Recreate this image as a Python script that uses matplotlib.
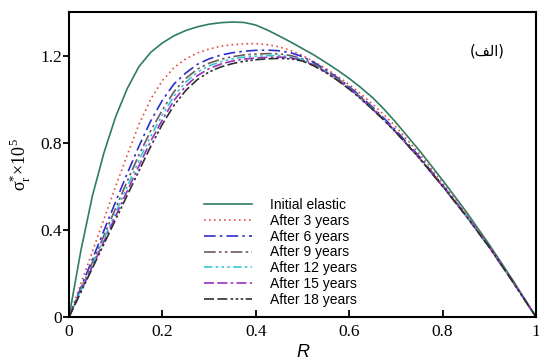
import matplotlib
matplotlib.use("Agg")
import matplotlib.pyplot as plt

# ---- data ----
R = [0, 0.025, 0.05, 0.075, 0.1, 0.125, 0.15, 0.175, 0.2, 0.225, 0.25, 0.275, 0.3,
     0.325, 0.35, 0.375, 0.4, 0.425, 0.45, 0.475, 0.5, 0.525, 0.55, 0.575, 0.6,
     0.625, 0.65, 0.675, 0.7, 0.75, 0.8, 0.85, 0.9, 0.95, 1.0]

initial_elastic = [0, 0.30, 0.555, 0.755, 0.92, 1.05, 1.15, 1.215, 1.258, 1.291, 1.315, 1.332, 1.344,
                   1.351, 1.354, 1.352, 1.34, 1.317, 1.29, 1.262, 1.232, 1.202, 1.168, 1.133, 1.095,
                   1.053, 1.007, 0.953, 0.893, 0.765, 0.628, 0.485, 0.332, 0.17, 0]
after_3 = [0, 0.15, 0.30, 0.45, 0.60, 0.745, 0.885, 1.0, 1.085, 1.145, 1.185, 1.212, 1.23,
           1.243, 1.25, 1.254, 1.255, 1.25, 1.24, 1.223, 1.20, 1.172, 1.14, 1.105, 1.067,
           1.024, 0.977, 0.927, 0.873, 0.75, 0.615, 0.475, 0.326, 0.166, 0]
after_6 = [0, 0.132, 0.265, 0.398, 0.53, 0.66, 0.785, 0.90, 0.995, 1.07, 1.12, 1.16, 1.185,
           1.202, 1.213, 1.22, 1.224, 1.225, 1.222, 1.213, 1.195, 1.168, 1.135, 1.098, 1.057,
           1.012, 0.963, 0.911, 0.857, 0.737, 0.605, 0.468, 0.322, 0.164, 0]
after_9 = [0, 0.125, 0.25, 0.375, 0.50, 0.625, 0.745, 0.855, 0.95, 1.035, 1.095, 1.138, 1.165,
           1.183, 1.195, 1.203, 1.207, 1.209, 1.208, 1.20, 1.185, 1.162, 1.131, 1.095, 1.054,
           1.008, 0.959, 0.906, 0.85, 0.731, 0.602, 0.466, 0.321, 0.163, 0]
after_12 = [0, 0.12, 0.24, 0.36, 0.48, 0.60, 0.72, 0.83, 0.928, 1.015, 1.078, 1.124, 1.153,
            1.172, 1.185, 1.193, 1.197, 1.20, 1.20, 1.194, 1.181, 1.158, 1.127, 1.091, 1.05,
            1.005, 0.956, 0.904, 0.849, 0.73, 0.60, 0.465, 0.32, 0.163, 0]
after_15 = [0, 0.116, 0.232, 0.348, 0.464, 0.58, 0.695, 0.807, 0.905, 0.995, 1.06, 1.108, 1.14,
            1.161, 1.175, 1.184, 1.189, 1.192, 1.193, 1.19, 1.178, 1.155, 1.124, 1.088, 1.048,
            1.003, 0.954, 0.903, 0.848, 0.73, 0.60, 0.465, 0.32, 0.163, 0]
after_18 = [0, 0.112, 0.224, 0.336, 0.448, 0.56, 0.672, 0.783, 0.885, 0.972, 1.04, 1.09, 1.125,
            1.148, 1.163, 1.174, 1.181, 1.185, 1.187, 1.185, 1.175, 1.152, 1.122, 1.086, 1.046,
            1.001, 0.953, 0.902, 0.848, 0.73, 0.60, 0.465, 0.32, 0.163, 0]

labels = ["Initial elastic", "After 3 years", "After 6 years", "After 9 years",
          "After 12 years", "After 15 years", "After 18 years"]
xticks = [0, 0.2, 0.4, 0.6, 0.8, 1.0]
xticklabels = ["0", "0.2", "0.4", "0.6", "0.8", "1"]
yticks = [0, 0.4, 0.8, 1.2]
yticklabels = ["0", "0.4", "0.8", "1.2"]

series = [initial_elastic, after_3, after_6, after_9, after_12, after_15, after_18]
colors = ["#2e7d5e", "#e0503c", "#2c2cd0", "#6e5a5a", "#30c8d0", "#9a30c0", "#303030"]
styles = ["-", (0, (1, 2)), (0, (7, 2.5, 1.5, 2.5)), (0, (7, 2, 1.5, 2, 1.5, 2)),
          (0, (5, 2, 1.5, 2, 1.5, 2, 1.5, 2)), (0, (6, 2, 6, 2, 1.5, 2)),
          (0, (6, 2, 6, 2, 1.5, 1.5, 1.5, 1.5, 1.5, 1.5))]

fig = plt.figure(figsize=(5.39, 3.62), dpi=100)
ax = fig.add_axes([69/539, 45/362, 467/539, 305/362])

for y, lab, c, ls in zip(series, labels, colors, styles):
    ax.plot(R, y, color=c, linestyle=ls, linewidth=1.2, label=lab)

ax.set_xlim(0, 1)
ax.set_ylim(0, 1.4)
ax.set_xticks(xticks)
ax.set_xticklabels(xticklabels, family="Liberation Serif", fontsize=12.5)
ax.set_yticks(yticks)
ax.set_yticklabels(yticklabels, family="Liberation Serif", fontsize=12.5)
ax.tick_params(axis="x", direction="in", length=5, width=1.3, pad=5)
ax.tick_params(axis="y", direction="out", length=4, width=1.3, pad=1)
for s in ax.spines.values():
    s.set_linewidth(1.5)

ax.set_xlabel("R", family="Liberation Sans", style="italic", fontsize=13, labelpad=3)
ax.set_ylabel("σ$_{\\mathregular{r}}^{\\mathregular{*}}$×10$^{\\mathregular{5}}$",
              family="Liberation Serif", fontsize=13, labelpad=5)

leg = ax.legend(loc="upper left", bbox_to_anchor=(0.29, 0.39), frameon=False,
                prop={"family": "Liberation Sans", "size": 10},
                handlelength=3.4, handletextpad=1.3, labelspacing=0.13,
                borderpad=0, borderaxespad=0)

# Arabic label "(الف)" written with presentation forms in visual order
ax.text(0.895, 0.872, "(\ufed2\ufedf\ufe8d)", transform=ax.transAxes,
        family="DejaVu Sans", fontsize=10.5, ha="center", va="center")

fig.savefig("out.png", dpi=100)
